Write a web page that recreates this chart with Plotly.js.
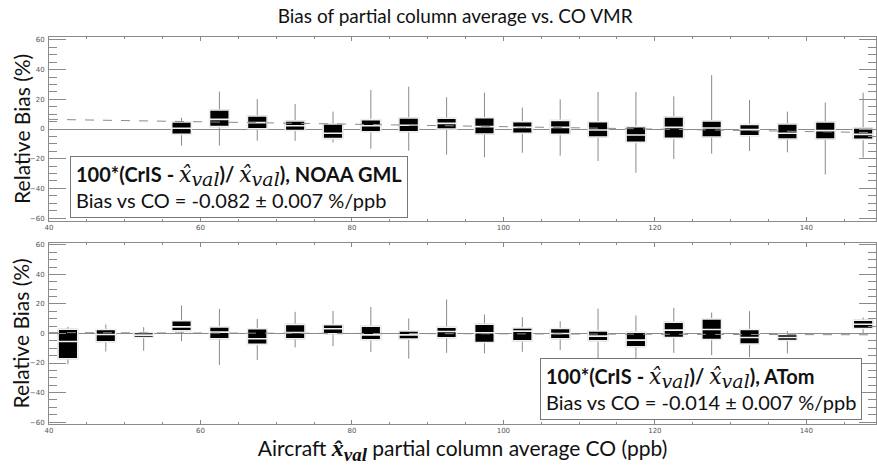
<!DOCTYPE html>
<html>
<head>
<meta charset="utf-8">
<script src="https://cdn.plot.ly/plotly-3.0.1.min.js"></script>
<style>html,body{margin:0;padding:0;background:#fff;}#chart{width:877px;height:467px;}</style>
</head>
<body>
<div id="chart"></div>
<script>
// ---- Top panel (NOAA GML) ----
const gmlX      = [57.5, 62.5, 67.5, 72.5, 77.5, 82.5, 87.5, 92.5, 97.5, 102.5, 107.5, 112.5, 117.5, 122.5, 127.5, 132.5, 137.5, 142.5, 147.5];
const gmlQ1     = [-3.6, 1.6, 0.2, -1.0, -6.5, -1.8, -1.8, 0.0, -3.4, -2.9, -3.6, -5.4, -9.0, -6.3, -5.4, -4.5, -6.7, -6.7, -7.0];
const gmlMedian = [0.5, 6.5, 4.3, 2.2, -2.9, 2.2, 2.5, 3.8, 1.6, 1.1, 1.1, -0.7, -4.0, 1.1, 0.7, -0.4, -2.9, -1.1, -3.6];
const gmlQ3     = [4.7, 12.8, 8.8, 5.4, 3.4, 6.3, 7.4, 7.2, 7.6, 4.9, 5.8, 4.9, 1.6, 8.1, 5.4, 3.1, 3.4, 4.7, 0.7];
const gmlLo     = [-11.2, -11.2, -7.9, -7.9, -9.2, -13.3, -14.6, -17.3, -19.1, -16.0, -18.0, -21.6, -29.4, -20.2, -16.6, -14.8, -15.7, -30.6, -19.3];
const gmlHi     = [7.6, 25.2, 20.2, 16.9, 11.7, 26.3, 28.5, 21.4, 24.5, 14.4, 20.0, 25.0, 25.0, 22.0, 36.4, 19.6, 11.7, 17.8, 24.5];
const gmlFitX   = [40, 150];
const gmlFitY   = [6.5, -2.5];

// ---- Bottom panel (ATom) ----
const atomX      = [42.5, 47.5, 52.5, 57.5, 62.5, 67.5, 72.5, 77.5, 82.5, 87.5, 92.5, 97.5, 102.5, 107.5, 112.5, 117.5, 122.5, 127.5, 132.5, 137.5, 147.5];
const atomQ1     = [-17.1, -5.6, -2.7, 1.8, -3.6, -7.4, -3.6, -0.2, -4.3, -3.8, -2.9, -6.1, -5.0, -3.6, -5.0, -9.0, -2.7, -4.1, -7.2, -4.7, 3.4];
const atomMedian = [-5.4, -0.7, -1.1, 4.5, 0.9, -3.6, 0.7, 3.2, -0.9, -0.9, 1.4, 0.5, 1.6, 0.0, -1.8, -4.5, 2.3, 2.7, -2.7, -2.7, 6.3];
const atomQ3     = [2.9, 2.7, 0.7, 8.6, 4.5, 3.2, 6.2, 5.9, 5.0, 1.8, 4.3, 6.3, 3.8, 3.4, 1.8, 0.9, 7.7, 9.9, 2.7, -0.7, 9.0];
const atomLo     = [-20.8, -12.2, -11.7, -5.2, -21.4, -18.0, -9.4, -8.6, -12.6, -17.1, -13.1, -13.5, -12.4, -11.3, -18.0, -18.0, -13.1, -14.7, -16.0, -13.5, 0.0];
const atomHi     = [4.5, 6.1, 4.3, 19.0, 16.7, 9.9, 14.7, 15.3, 18.0, 10.2, 23.0, 12.9, 11.1, 8.3, 16.9, 12.2, 17.4, 14.2, 15.1, 1.6, 10.8];
const atomFitX   = [40, 150];
const atomFitY   = [0.6, -0.9];

// ---- Labels ----
const chartTitle = 'Bias of partial column average vs. CO VMR';
const yTitle = 'Relative Bias (%)';
const xhat = '<span style="font-family:\'DejaVu Serif\';font-size:22px;font-weight:normal"><i>x̂</i></span><sub><span style="font-family:\'DejaVu Serif\';font-size:19px;font-weight:normal"><i>val</i></span></sub>';
const xhatB = '<span style="font-family:\'Liberation Serif\';font-size:24px"><b><i>x̂</i></b></span><sub><span style="font-family:\'Liberation Serif\';font-size:19px"><b><i>val</i></b></span></sub>';
const xTitle = 'Aircraft ' + xhatB + ' partial column average CO (ppb)';
const gmlNote = '<b>100*(CrIS - ' + xhat + ')/ ' + xhat + '), NOAA GML</b><br>Bias vs CO = -0.082 ± 0.007 %/ppb';
const atomNote = '<b>100*(CrIS - ' + xhat + ')/ ' + xhat + '), ATom</b><br>Bias vs CO = -0.014 ± 0.007 %/ppb';

const BOXW = 2.6;
const WHISK = '#8a8a8a';

function panel(xa, ya, X, Q1, MED, Q3, LO, HI, FX, FY) {
  return [
    { type: 'scatter', mode: 'lines', x: FX, y: FY, xaxis: xa, yaxis: ya,
      line: { color: '#8c8c8c', width: 1, dash: 'dash' }, hoverinfo: 'skip' },
    { type: 'box', x: X, q1: Q1, median: MED, q3: Q3, lowerfence: LO, upperfence: HI,
      xaxis: xa, yaxis: ya, width: BOXW, whiskerwidth: 0,
      line: { color: WHISK, width: 1 }, fillcolor: WHISK, boxpoints: false },
    { type: 'box', x: X, q1: Q1, median: MED, q3: Q3, lowerfence: Q1, upperfence: Q3,
      xaxis: xa, yaxis: ya, width: BOXW, whiskerwidth: 0,
      line: { color: '#f0f0f0', width: 1.6 }, fillcolor: '#000000', boxpoints: false }
  ];
}

const data = [].concat(
  panel('x', 'y', gmlX, gmlQ1, gmlMedian, gmlQ3, gmlLo, gmlHi, gmlFitX, gmlFitY),
  panel('x2', 'y2', atomX, atomQ1, atomMedian, atomQ3, atomLo, atomHi, atomFitX, atomFitY)
);

const tickFont = { family: 'DejaVu Sans', size: 7, color: '#555' };
const axisCol = '#8a8a8a';
const txtFont = 'Lato';
function xAxis(anchor) {
  return {
    anchor: anchor, range: [40, 149.2], dtick: 20, tick0: 0,
    ticks: 'inside', ticklen: 4, tickcolor: axisCol, tickwidth: 1,
    minor: { dtick: 5, ticks: 'inside', ticklen: 2, tickcolor: axisCol },
    showline: true, linecolor: axisCol, linewidth: 1, mirror: 'ticks',
    showgrid: false, zeroline: false, tickfont: tickFont
  };
}
function yAxis(anchor, domain, rng) {
  return {
    anchor: anchor, domain: domain, range: rng, dtick: 20, tick0: 0,
    ticks: 'inside', ticklen: 17, tickcolor: axisCol, tickwidth: 1,
    minor: { dtick: 5, ticks: 'inside', ticklen: 8, tickcolor: axisCol },
    showline: true, linecolor: axisCol, linewidth: 1, mirror: 'ticks',
    showgrid: false, zeroline: true, zerolinecolor: '#8a8a8a', zerolinewidth: 1,
    tickfont: tickFont, ticklabelstandoff: 2
  };
}

function yTitleAnn(yref) {
  return { xref: 'paper', yref: yref, x: -0.034, y: 0.5, xanchor: 'center', yanchor: 'middle',
           text: yTitle, textangle: -90, showarrow: false,
           font: { family: txtFont, size: 21, color: '#111' } };
}

const layout = {
  width: 877, height: 467,
  margin: { l: 49, r: 1, t: 37, b: 43 },
  paper_bgcolor: '#fff', plot_bgcolor: '#fff',
  showlegend: false, boxmode: 'overlay',
  title: { text: chartTitle, x: 0.519, xanchor: 'center', y: 0.966, yanchor: 'middle',
           font: { family: txtFont, size: 19, color: '#111' } },
  xaxis: xAxis('y'),
  yaxis: yAxis('x', [0.5245, 1], [-62, 62]),
  xaxis2: Object.assign(xAxis('y2'), {
    title: { text: xTitle, font: { family: txtFont, size: 21, color: '#111' }, standoff: 6 } }),
  yaxis2: yAxis('x2', [0, 0.4677], [-61.3, 61.3]),
  annotations: [
    yTitleAnn('y domain'),
    yTitleAnn('y2 domain'),
    { xref: 'x domain', yref: 'y domain', x: 0.0254, y: 0.016, xanchor: 'left', yanchor: 'bottom',
      text: gmlNote, align: 'left', showarrow: false, bgcolor: '#fff',
      bordercolor: '#777', borderwidth: 1, borderpad: 5,
      font: { family: txtFont, size: 20, color: '#111' } },
    { xref: 'x2 domain', yref: 'y2 domain', x: 0.983, y: 0.022, xanchor: 'right', yanchor: 'bottom',
      text: atomNote, align: 'left', showarrow: false, bgcolor: '#fff',
      bordercolor: '#777', borderwidth: 1, borderpad: 5,
      font: { family: txtFont, size: 20, color: '#111' } }
  ]
};

Plotly.newPlot('chart', data, layout, { displayModeBar: false, staticPlot: true });
</script>
</body>
</html>
